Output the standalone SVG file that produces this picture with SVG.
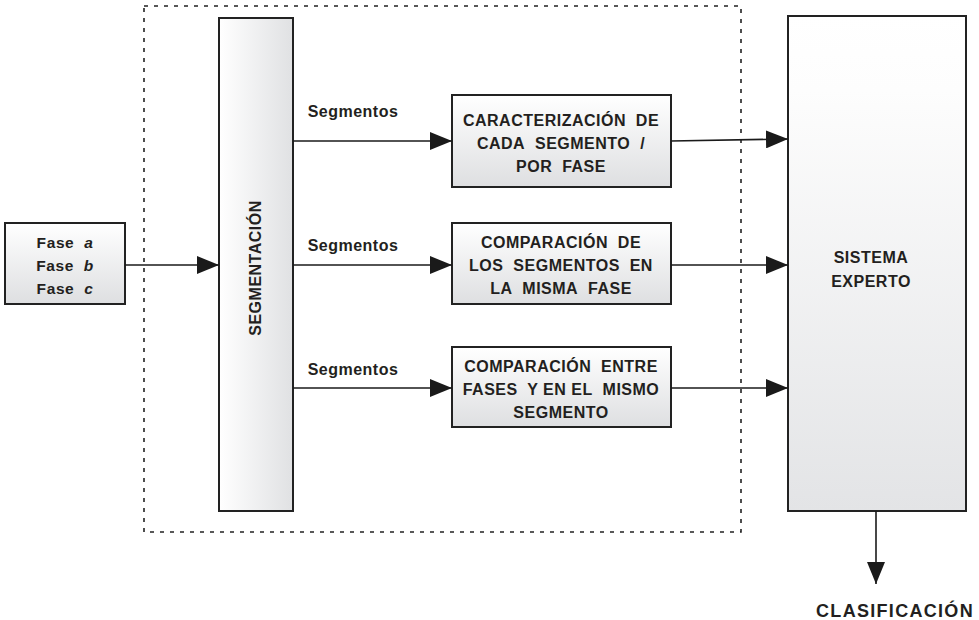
<svg xmlns="http://www.w3.org/2000/svg" width="979" height="620" viewBox="0 0 979 620">
<defs>
<linearGradient id="gV" x1="0" y1="0" x2="0" y2="1"><stop offset="0" stop-color="#ffffff"/><stop offset="1" stop-color="#dedfe1"/></linearGradient>
<linearGradient id="gH" x1="0" y1="0" x2="1" y2="0"><stop offset="0" stop-color="#ffffff"/><stop offset="1" stop-color="#e0e1e3"/></linearGradient>
<linearGradient id="gS" x1="0" y1="0" x2="0" y2="1"><stop offset="0" stop-color="#ffffff"/><stop offset="0.15" stop-color="#fdfdfd"/><stop offset="1" stop-color="#e3e4e6"/></linearGradient>
<marker id="ah" markerUnits="userSpaceOnUse" markerWidth="22" markerHeight="18" refX="22" refY="9" orient="auto"><path d="M0,0 L22,9 L0,18 z" fill="#1a1a1a"/></marker>
</defs>
<style>
.box{stroke:#222;stroke-width:2}
.t{font-family:"Liberation Sans",Arial,sans-serif;font-weight:bold;fill:#231f20;text-anchor:middle}
.b{font-size:16px;letter-spacing:0.5px}
.f{font-size:15.5px;letter-spacing:0.6px}
.ln{stroke:#1a1a1a;stroke-width:1.6;fill:none}
.dot{stroke:#222;stroke-width:1.6;fill:none;stroke-dasharray:4 6}
</style>
<rect class="dot" x="144" y="6" width="597" height="526"/>
<g id="fase">
<rect class="box" x="5" y="223" width="120" height="81" fill="url(#gV)"/>
<text class="t f" x="65" y="248">Fase&#160; <tspan font-style="italic">a</tspan></text>
<text class="t f" x="65" y="271">Fase&#160; <tspan font-style="italic">b</tspan></text>
<text class="t f" x="65" y="294">Fase&#160; <tspan font-style="italic">c</tspan></text>
</g>
<g id="segmentacion">
<rect class="box" x="219" y="18" width="74" height="493" fill="url(#gH)"/>
<text class="t b" transform="translate(261,268) rotate(-90)" x="0" y="0">SEGMENTACIÓN</text>
</g>
<g id="caracterizacion">
<rect class="box" x="452" y="95" width="219" height="92" fill="url(#gV)"/>
<text class="t b" x="561" y="126">CARACTERIZACIÓN&#160; DE</text>
<text class="t b" x="561" y="149">CADA&#160; SEGMENTO&#160; /</text>
<text class="t b" x="561" y="172">POR&#160; FASE</text>
</g>
<g id="comparacion1">
<rect class="box" x="452" y="223" width="219" height="81" fill="url(#gV)"/>
<text class="t b" x="561" y="248">COMPARACIÓN&#160; DE</text>
<text class="t b" x="561" y="271">LOS&#160; SEGMENTOS&#160; EN</text>
<text class="t b" x="561" y="294">LA&#160; MISMA&#160; FASE</text>
</g>
<g id="comparacion2">
<rect class="box" x="452" y="347" width="219" height="80" fill="url(#gV)"/>
<text class="t b" x="561" y="372">COMPARACIÓN&#160; ENTRE</text>
<text class="t b" x="561" y="395">FASES&#160; Y EN EL&#160; MISMO</text>
<text class="t b" x="561" y="418">SEGMENTO</text>
</g>
<g id="sistema">
<rect class="box" x="788" y="16" width="178" height="495" fill="url(#gS)"/>
<text class="t b" x="871" y="263">SISTEMA</text>
<text class="t b" x="871" y="287">EXPERTO</text>
</g>
<g id="clasificacion">
<text class="t" x="895" y="617" style="font-size:18px;letter-spacing:1.3px">CLASIFICACIÓN</text>
</g>
<g id="connectors">
<line class="ln" x1="125" y1="265" x2="219" y2="265" marker-end="url(#ah)"/>
<line class="ln" x1="293" y1="141" x2="452" y2="141" marker-end="url(#ah)"/>
<line class="ln" x1="293" y1="265" x2="452" y2="265" marker-end="url(#ah)"/>
<line class="ln" x1="293" y1="388" x2="452" y2="388" marker-end="url(#ah)"/>
<line class="ln" x1="671" y1="141" x2="788" y2="139" marker-end="url(#ah)"/>
<line class="ln" x1="671" y1="265" x2="788" y2="265" marker-end="url(#ah)"/>
<line class="ln" x1="671" y1="388" x2="788" y2="388" marker-end="url(#ah)"/>
<line class="ln" x1="876" y1="511" x2="876" y2="584" marker-end="url(#ah)"/>
<text class="t b" x="353" y="117">Segmentos</text>
<text class="t b" x="353" y="251">Segmentos</text>
<text class="t b" x="353" y="375">Segmentos</text>
</g>
</svg>
